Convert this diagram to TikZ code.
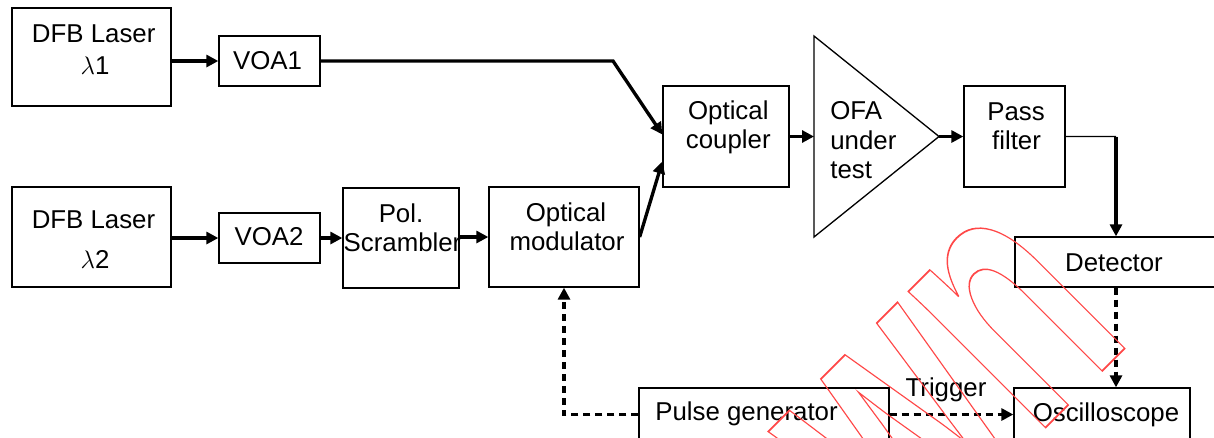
\documentclass[tikz,border=0pt]{standalone}
\usepackage{fontspec}
\setmainfont{Liberation Sans}
\usepackage{graphicx}
\usetikzlibrary{arrows.meta,fit,calc}
\definecolor{wmred}{RGB}{255,72,72}
\newcommand\outlinedtext[1]{\special{pdf:literal direct 1 Tr 1 w}#1\special{pdf:literal direct 0 Tr}}
\begin{document}
\begin{tikzpicture}[x=0.02cm,y=-0.02cm,
  box/.style={draw,line width=0.75pt,inner sep=0pt},
  lbl/.style={anchor=base,inner sep=0pt,font=\fontsize{14.7}{17}\selectfont},
  tip/.style={-{Triangle[length=0.24cm,width=0.24cm]}},
  arr/.style={line width=1.9pt,tip},
  darr/.style={line width=1.9pt,tip,dash pattern=on 0.14cm off 0.1cm},
  thinline/.style={line width=0.8pt}]
\useasboundingbox (0,0) rectangle (1214,437);
\clip (0,0) rectangle (1214,437);

% boxes
\node[box,fit={(12,8) (171,106)}] (l1) {};
\node[box,fit={(219,36) (320,86)}] (voa1) {};
\node[box,fit={(12,187) (171,287)}] (l2) {};
\node[box,fit={(219,213) (320,263)}] (voa2) {};
\node[box,fit={(343,188) (459,288)}] (scr) {};
\node[box,fit={(489,187) (639,287)}] (mod) {};
\node[box,fit={(663,86) (789,187)}] (coup) {};
\node[box,fit={(964,86) (1065,187)}] (pass) {};
\node[box,fit={(1015,237) (1217,287)}] (det) {};
\node[box,fit={(1014,388) (1190,441)}] (osc) {};
\node[box,fit={(639,388) (889,441)}] (pg) {};
\draw[box] (814,36) coordinate (ofaT) -- (939,136.5) coordinate (ofaA) -- (814,237) coordinate (ofaB) -- cycle;

% labels
\node[lbl] (t1a) at (93.7,42) {DFB Laser};
\node[lbl] (t1b) at (95,74.5) {$\lambda$1};
\node[lbl] (tv1) at (267.5,69) {VOA1};
\node[lbl] (t2a) at (93.5,228) {DFB Laser};
\node[lbl] (t2b) at (95,268.5) {$\lambda$2};
\node[lbl] (tv2) at (269,245.5) {VOA2};
\node[lbl] (ts1) at (401,222) {Pol.};
\node[lbl] (ts2) at (402.5,251) {Scrambler};
\node[lbl] (tm1) at (566,221) {Optical};
\node[lbl] (tm2) at (567,250) {modulator};
\node[lbl] (tc1) at (728.3,119.3) {Optical};
\node[lbl] (tc2) at (728.3,148.8) {coupler};
\node[lbl,anchor=base west] (to1) at (830,119.3) {OFA};
\node[lbl,anchor=base west] (to2) at (830,149) {under};
\node[lbl,anchor=base west] (to3) at (830,178) {test};
\node[lbl] (tp1) at (1016,120) {Pass};
\node[lbl] (tp2) at (1016.5,149) {filter};
\node[lbl] (td) at (1114,271.3) {Detector};
\node[lbl] (tos) at (1106,421) {Oscilloscope};
\node[lbl,anchor=base west] (tpg) at (655,420.6) {Pulse generator};
\node[lbl] (ttr) at (946,396.3) {Trigger};

% connectors
\draw[arr] (l1.east |- voa1.west) -- (voa1.west);
\coordinate (b1) at (613,61);
\draw[arr] (voa1.east) -- (b1) -- ($(coup.west)+(0,-2)$);
\draw[arr] (l2.east |- voa2.west) -- (voa2.west);
\draw[arr] (voa2.east) -- (scr.west |- voa2.east);
\draw[arr] (scr.east |- mod.west) -- (mod.west);
\draw[arr] (mod.east) -- ($(coup.west)+(0,25)$);
\draw[arr] (coup.east) -- (coup.east -| ofaT);
\draw[arr] (ofaA) -- (pass.west |- ofaA);
\coordinate (b2) at (1116,136.5);
\draw[thinline] (pass.east) -- (b2);
\draw[arr] (b2) -- (det.north);
\draw[darr] (det.south) -- (det.south |- osc.north);
\draw[darr] (pg.west) -| (mod.south);
\draw[darr] (pg.east) -- (osc.west);

% watermark
\node[anchor=base east,inner sep=0pt,rotate=45,text=wmred,
  font=\bfseries\fontsize{208}{208}\selectfont] (wm) at (1135,338)
  {\scalebox{0.64}[1]{\outlinedtext{Withdrawn}}};
\end{tikzpicture}
\end{document}
